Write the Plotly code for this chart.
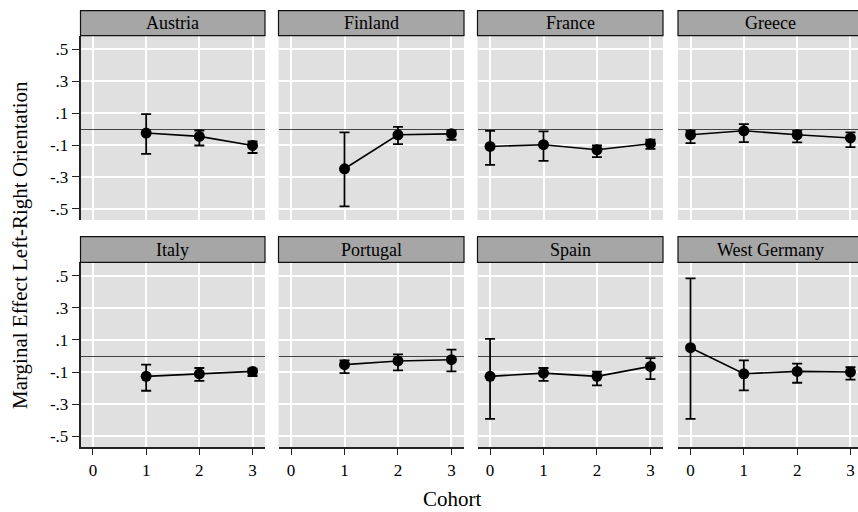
import plotly.graph_objects as go

# ---- data: marginal effect of left-right orientation by cohort ----
countries = ["Austria", "Finland", "France", "Greece",
             "Italy", "Portugal", "Spain", "West Germany"]

austria_cohort = [1, 2, 3]
austria_est = [-0.025, -0.046, -0.103]
austria_lo = [-0.155, -0.103, -0.150]
austria_hi = [0.094, -0.009, -0.078]

finland_cohort = [1, 2, 3]
finland_est = [-0.249, -0.036, -0.030]
finland_lo = [-0.485, -0.094, -0.067]
finland_hi = [-0.021, 0.014, -0.009]

france_cohort = [0, 1, 2, 3]
france_est = [-0.109, -0.098, -0.130, -0.092]
france_lo = [-0.224, -0.199, -0.176, -0.124]
france_hi = [-0.011, -0.015, -0.103, -0.067]

greece_cohort = [0, 1, 2, 3]
greece_est = [-0.036, -0.011, -0.036, -0.056]
greece_lo = [-0.088, -0.082, -0.084, -0.113]
greece_hi = [-0.011, 0.031, -0.011, -0.021]

italy_cohort = [1, 2, 3]
italy_est = [-0.127, -0.111, -0.096]
italy_lo = [-0.217, -0.155, -0.125]
italy_hi = [-0.054, -0.075, -0.079]

portugal_cohort = [1, 2, 3]
portugal_est = [-0.054, -0.031, -0.023]
portugal_lo = [-0.107, -0.090, -0.096]
portugal_hi = [-0.027, 0.010, 0.040]

spain_cohort = [0, 1, 2, 3]
spain_est = [-0.127, -0.107, -0.127, -0.065]
spain_lo = [-0.393, -0.155, -0.184, -0.144]
spain_hi = [0.107, -0.075, -0.098, -0.013]

wgermany_cohort = [0, 1, 2, 3]
wgermany_est = [0.052, -0.111, -0.096, -0.100]
wgermany_lo = [-0.393, -0.215, -0.167, -0.148]
wgermany_hi = [0.485, -0.027, -0.048, -0.069]

x_ticks = [0, 1, 2, 3]
x_tick_labels = ["0", "1", "2", "3"]
y_ticks = [-0.5, -0.3, -0.1, 0.1, 0.3, 0.5]
y_tick_labels = ["-.5", "-.3", "-.1", ".1", ".3", ".5"]

panels = [
    (austria_cohort, austria_est, austria_lo, austria_hi),
    (finland_cohort, finland_est, finland_lo, finland_hi),
    (france_cohort, france_est, france_lo, france_hi),
    (greece_cohort, greece_est, greece_lo, greece_hi),
    (italy_cohort, italy_est, italy_lo, italy_hi),
    (portugal_cohort, portugal_est, portugal_lo, portugal_hi),
    (spain_cohort, spain_est, spain_lo, spain_hi),
    (wgermany_cohort, wgermany_est, wgermany_lo, wgermany_hi),
]

# ---- layout geometry (pixels) ----
W, H = 858, 512
col_px = [(80.5, 265.0), (278.5, 464.0), (477.5, 663.0), (678.0, 863.0)]
row_px = [(35.7, 220.0), (262.3, 447.3)]      # plot area top/bottom
strip_px = [(10.7, 35.7), (236.7, 262.3)]     # panel header top/bottom
x_lo, x_hi = -0.235, 3.235
y_range = [-0.57, 0.585]

FONT = "Liberation Serif"
fig = go.Figure()
layout_axes = {}
shapes = []
annotations = []

for i, (name, (cx, est, lo, hi)) in enumerate(zip(countries, panels)):
    r, c = divmod(i, 4)
    xa = "x" if i == 0 else f"x{i+1}"
    ya = "y" if i == 0 else f"y{i+1}"

    fig.add_trace(go.Scatter(
        x=cx, y=est, xaxis=xa, yaxis=ya, mode="lines+markers",
        line=dict(color="black", width=1.6),
        marker=dict(color="black", size=11),
        error_y=dict(type="data", symmetric=False,
                     array=[h - e for h, e in zip(hi, est)],
                     arrayminus=[e - l for e, l in zip(est, lo)],
                     color="black", thickness=1.8, width=5),
        showlegend=False, hoverinfo="skip"))

    left, right = col_px[c]
    rng_hi = x_hi
    if right > W:  # last column runs off the page edge
        rng_hi = x_lo + (W - left) / (right - left) * (x_hi - x_lo)
        right_dom = 1.0
    else:
        right_dom = right / W
    top, bot = row_px[r]

    bottom_row = r == 1
    first_col = c == 0
    layout_axes["xaxis" if i == 0 else f"xaxis{i+1}"] = dict(
        domain=[left / W, right_dom], range=[x_lo, rng_hi],
        anchor=ya, tickvals=x_ticks, ticktext=x_tick_labels,
        showgrid=True, gridcolor="white", gridwidth=1.5, zeroline=False,
        showticklabels=bottom_row, ticks="outside" if bottom_row else "",
        ticklen=6, tickwidth=1.4, tickcolor="#222",
        showline=bottom_row, linecolor="#222", linewidth=1.6,
        tickfont=dict(family=FONT, size=17, color="black"), fixedrange=True)
    layout_axes["yaxis" if i == 0 else f"yaxis{i+1}"] = dict(
        domain=[1 - bot / H, 1 - top / H], range=y_range,
        anchor=xa, tickvals=y_ticks, ticktext=y_tick_labels,
        showgrid=True, gridcolor="white", gridwidth=1.5,
        zeroline=True, zerolinecolor="#444", zerolinewidth=1.3,
        showticklabels=first_col, ticks="outside" if first_col else "",
        ticklen=7, tickwidth=1.4, tickcolor="#222",
        showline=first_col, linecolor="#222", linewidth=1.6,
        tickfont=dict(family=FONT, size=17, color="black"), fixedrange=True)

    # panel header
    s_top, s_bot = strip_px[r]
    shapes.append(dict(type="rect", xref="paper", yref="paper",
                       x0=left / W, x1=right / W,
                       y0=1 - s_bot / H, y1=1 - s_top / H,
                       fillcolor="#a6a6a6", line=dict(color="#111", width=1.2),
                       layer="above"))
    annotations.append(dict(text=name, xref="paper", yref="paper",
                            x=(left + right) / 2 / W,
                            y=1 - (s_top + s_bot) / 2 / H,
                            showarrow=False, xanchor="center", yanchor="middle",
                            font=dict(family=FONT, size=18, color="black")))

annotations.append(dict(text="Marginal Effect Left-Right Orientation",
                        xref="paper", yref="paper", x=20 / W, y=1 - 245 / H,
                        textangle=-90, showarrow=False,
                        xanchor="center", yanchor="middle",
                        font=dict(family=FONT, size=21, color="black")))
annotations.append(dict(text="Cohort", xref="paper", yref="paper",
                        x=452 / W, y=1 - 499 / H, showarrow=False,
                        xanchor="center", yanchor="middle",
                        font=dict(family=FONT, size=21, color="black")))

fig.update_layout(
    width=W, height=H, margin=dict(l=0, r=0, t=0, b=0),
    paper_bgcolor="white", plot_bgcolor="#e0e0e0",
    showlegend=False, shapes=shapes, annotations=annotations,
    **layout_axes)

fig.write_html("out.html")
